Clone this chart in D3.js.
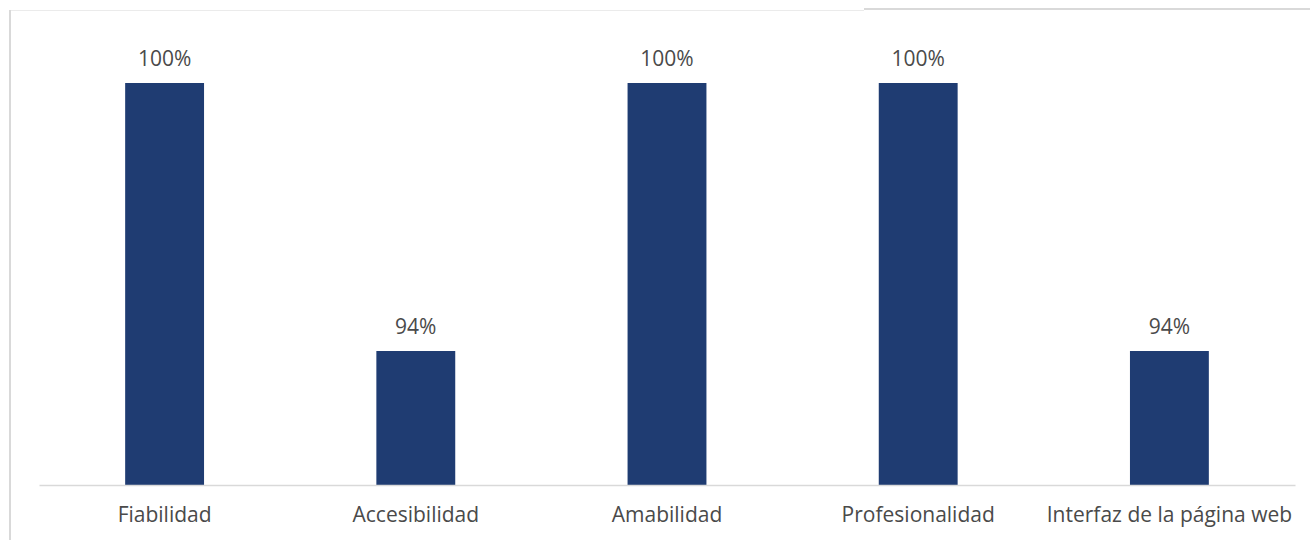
<!DOCTYPE html>
<html>
<head>
<meta charset="utf-8">
<script src="https://cdn.jsdelivr.net/npm/d3@7"></script>
<style>
  html, body { margin: 0; padding: 0; background: #fff; }
  svg { display: block; }
  text { font-family: "Open Sans", "Noto Sans", sans-serif; fill: #4a4a4a; }
</style>
</head>
<body>
<svg id="chart" width="1310" height="540"></svg>
<script>
const categories = ["Fiabilidad", "Accesibilidad", "Amabilidad", "Profesionalidad", "Interfaz de la página web"];
const values = [1.00, 0.94, 1.00, 1.00, 0.94];
const valueLabels = ["100%", "94%", "100%", "100%", "94%"];
const yDomain = [0.91, 1.00];

const svg = d3.select("#chart");
const W = 1310, H = 540;
const margin = { left: 39, right: 15, top: 83, bottom: 55 };
const plotBottom = 485;
const fs = 21;
const textColor = "#4a4a4a";

// frame lines (decorative)
svg.append("line").attr("x1", 10).attr("x2", 864).attr("y1", 10.5).attr("y2", 10.5)
  .attr("stroke", "#ebebeb").attr("stroke-width", 1);
svg.append("line").attr("x1", 864).attr("x2", W).attr("y1", 9).attr("y2", 9)
  .attr("stroke", "#d9d9d9").attr("stroke-width", 2);
svg.append("line").attr("x1", 10).attr("x2", 10).attr("y1", 10).attr("y2", H)
  .attr("stroke", "#d9d9d9").attr("stroke-width", 2);

const x = d3.scaleBand().domain(categories).range([39, 1295]).paddingInner(0.686).paddingOuter(0.343);
const y = d3.scaleLinear().domain(yDomain).range([plotBottom, margin.top]);

const data = categories.map((c, i) => ({ c, v: values[i], l: valueLabels[i] }));

svg.append("g").selectAll("rect").data(data).join("rect")
  .attr("x", d => x(d.c))
  .attr("y", d => y(d.v))
  .attr("width", x.bandwidth())
  .attr("height", d => y(yDomain[0]) - y(d.v))
  .attr("fill", "#1f3c72");

// axis
const xAxis = d3.axisBottom(x).tickSize(0).tickPadding(22);
const gx = svg.append("g").attr("transform", `translate(0,${plotBottom})`).call(xAxis);
gx.select(".domain").attr("stroke", "#d9d9d9").attr("stroke-width", 1.5);
gx.selectAll(".tick text").attr("font-size", fs).attr("font-family", '"Open Sans", sans-serif').attr("fill", textColor);

svg.append("g").selectAll("text").data(data).join("text")
  .attr("x", d => x(d.c) + x.bandwidth() / 2)
  .attr("y", d => y(d.v) - 17)
  .attr("text-anchor", "middle")
  .attr("font-size", fs)
  .attr("fill", textColor)
  .text(d => d.l);
</script>
</body>
</html>
